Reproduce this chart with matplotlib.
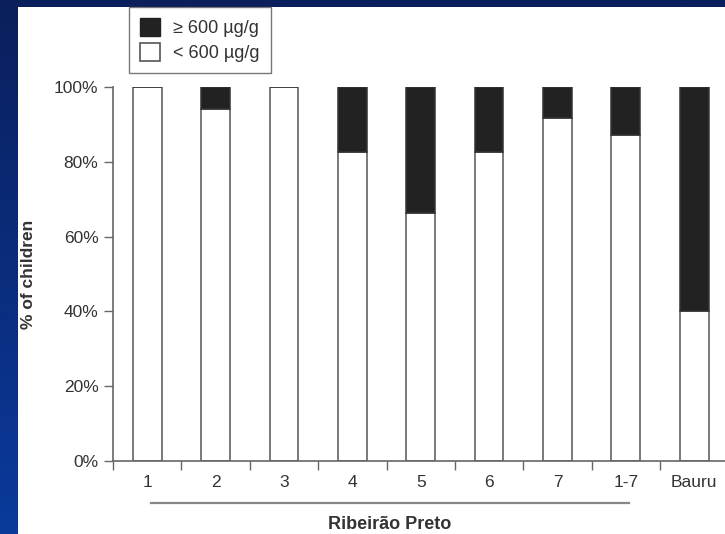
import numpy as np
import matplotlib
matplotlib.use('Agg')
from matplotlib import pyplot as plt
from matplotlib.patches import Patch, Rectangle
from matplotlib.colors import LinearSegmentedColormap

#Datos
categorias = ['1', '2', '3', '4', '5', '6', '7', '1-7', 'Bauru']
menor_600 = [100, 94.2, 100, 82.6, 66.3, 82.6, 91.9, 87.3, 40.1]
mayor_600 = [0, 5.8, 0, 17.4, 33.7, 17.4, 8.1, 12.7, 59.9]
etiquetas = ['\u2265 600 \u00b5g/g', '< 600 \u00b5g/g']

plt.rcParams['font.family'] = ['Liberation Sans', 'DejaVu Sans']

fig = plt.figure(figsize=(7.25, 5.34), dpi=100)

#Fondo azul con degradado
fondo = fig.add_axes([0, 0, 1, 1])
azul = LinearSegmentedColormap.from_list('azul', ['#0a1f5c', '#0a3a9c'])
fondo.imshow(np.linspace(0, 1, 256).reshape(-1, 1), aspect='auto', cmap=azul,
             extent=[0, 1, 0, 1], origin='upper')
fondo.add_patch(Rectangle((18 / 725, 0), 1, 1 - 7 / 534, facecolor='white',
                          edgecolor='none', transform=fondo.transAxes))
fondo.set_xlim(0, 1)
fondo.set_ylim(0, 1)
fondo.axis('off')

#Grafico de barras apiladas
ax = fig.add_axes([113 / 725, 73.3 / 534, 612 / 725, 373.4 / 534])
ax.patch.set_alpha(0)
x = np.arange(len(categorias))
ax.bar(x, menor_600, width=0.42, color='white', edgecolor='#555555', linewidth=1.1)
ax.bar(x, mayor_600, bottom=menor_600, width=0.42, color='#222222',
       edgecolor='#333333', linewidth=1.1)

ax.set_xlim(-0.5, 8.45)
ax.set_ylim(0, 100)
ax.set_yticks(range(0, 101, 20))
ax.set_yticklabels(['%d%%' % v for v in range(0, 101, 20)])
ax.set_xticks(x)
ax.set_xticklabels(categorias)
ax.set_xticks(np.arange(-0.5, 8.5, 1), minor=True)

for lado in ['top', 'right']:
    ax.spines[lado].set_visible(False)
for lado in ['left', 'bottom']:
    ax.spines[lado].set_color('#666666')
    ax.spines[lado].set_linewidth(1.2)

ax.tick_params(axis='y', direction='out', length=6.5, width=1, color='#666666',
               labelsize=12.5, labelcolor='#333333', pad=4)
ax.tick_params(axis='x', which='major', length=0, labelsize=12.5,
               labelcolor='#333333', pad=10)
ax.tick_params(axis='x', which='minor', direction='out', length=6.5, width=1,
               color='#666666')

ax.set_ylabel('% of children', fontsize=12.5, fontweight='bold', color='#333333')
ax.yaxis.set_label_coords(-0.126, 0.5)

#Linea y texto de Ribeirao Preto
ax.plot([0.05, 7.05], [-0.114, -0.114], color='#888888', linewidth=1.6,
        transform=ax.get_xaxis_transform(), clip_on=False)
ax.text(3.55, -0.172, 'Ribeir\u00e3o Preto', fontsize=13, fontweight='bold',
        color='#333333', ha='center', va='center',
        transform=ax.get_xaxis_transform())

#Leyenda
manijas = [Patch(facecolor='#222222', edgecolor='#222222'),
           Patch(facecolor='white', edgecolor='#555555', linewidth=1.2)]
ley = fig.legend(manijas, etiquetas, loc='upper left',
                 bbox_to_anchor=(129 / 725, 1 - 7 / 534), fontsize=13,
                 frameon=True, fancybox=False, borderaxespad=0, borderpad=0.6,
                 handlelength=1.1, handleheight=1.2, handletextpad=0.75,
                 labelspacing=0.3, labelcolor='#333333')
ley.get_frame().set_edgecolor('#555555')
ley.get_frame().set_linewidth(1.0)

fig.savefig('out.png', dpi=100)
